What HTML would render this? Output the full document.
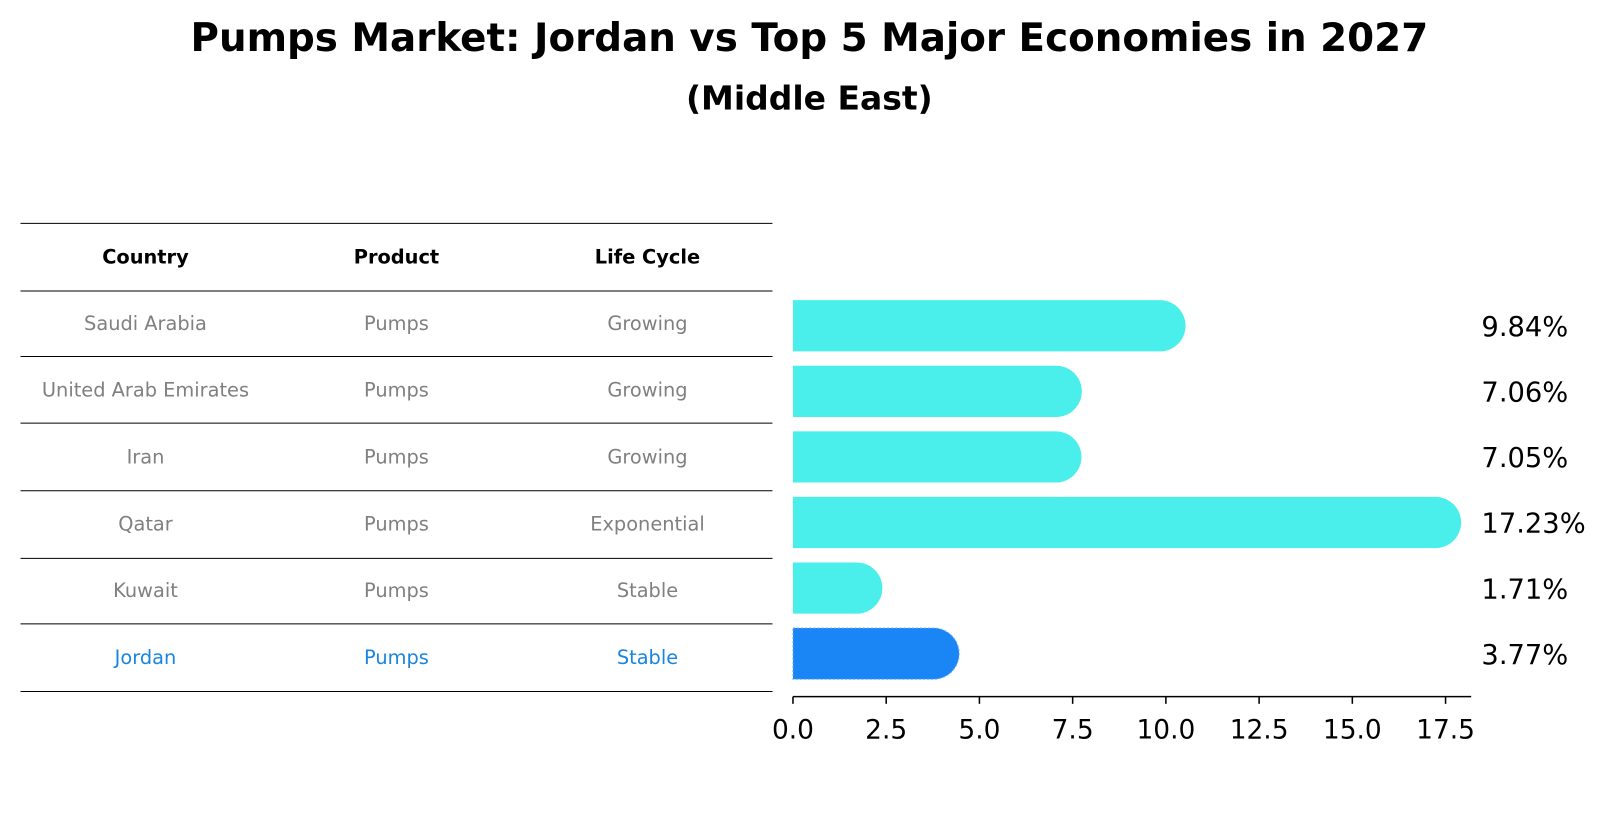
<!DOCTYPE html>
<html><head><meta charset="utf-8"><style>
body{margin:0;background:#fff;font-family:"Liberation Sans","DejaVu Sans",sans-serif}
</style></head><body>
<svg width="1604" height="823" xmlns="http://www.w3.org/2000/svg" font-family="DejaVu Sans, Liberation Sans, sans-serif">
<g transform="scale(1.0245)">
<text x="790" y="50" text-anchor="middle" font-size="37.9" font-weight="bold">Pumps Market: Jordan vs Top 5 Major Economies in 2027</text>
<text x="790" y="107" text-anchor="middle" font-size="32.2" font-weight="bold">(Middle East)</text>
<g id="table"></g>
<g id="bars"></g>
</g>
</svg>
<script>
const countries=["Saudi Arabia","United Arab Emirates","Iran","Qatar","Kuwait","Jordan"];
const products=["Pumps","Pumps","Pumps","Pumps","Pumps","Pumps"];
const lifeCycles=["Growing","Growing","Growing","Exponential","Stable","Stable"];
const values=[9.84,7.06,7.05,17.23,1.71,3.77];
const valueLabels=["9.84%","7.06%","7.05%","17.23%","1.71%","3.77%"];
const ticks=[0,2.5,5,7.5,10,12.5,15,17.5];
const tickLabels=["0.0","2.5","5.0","7.5","10.0","12.5","15.0","17.5"];
const NS="http://www.w3.org/2000/svg";
function mk(p,t,a){const e=document.createElementNS(NS,t);for(const k in a)e.setAttribute(k,a[k]);p.appendChild(e);return e;}
const x0=774,ppu=36.4;
const xs=v=>x0+v*ppu;
const yc=i=>318+i*64;
const tb=document.getElementById('table');
const lineYs=[218,284,348,413,479,545,609,675];
lineYs.forEach((y,i)=>{const l=mk(tb,'line',{x1:20,x2:754,y1:y,y2:y,stroke:'#000','stroke-width':1});

});
const cx=[142,387,632];
["Country","Product","Life Cycle"].forEach((h,j)=>{const t=mk(tb,'text',{x:cx[j],y:257,'text-anchor':'middle','font-size':18.9,'font-weight':'bold'});t.textContent=h;

});
countries.forEach((c,i)=>{const y=322+i*65.2;const col=i===countries.length-1?'#1a85e0':'#808080';
[c,products[i],lifeCycles[i]].forEach((v,j)=>{const t=mk(tb,'text',{x:cx[j],y:y,'text-anchor':'middle','font-size':18.9,fill:col});t.textContent=v;

});});
const bg=document.getElementById('bars');
values.forEach((v,i)=>{const jord=i===values.length-1;const col=jord?'#1a85f5':'#4aeeea';const y=yc(i);const xe=xs(v);
const p=mk(bg,'path',{d:`M${x0},${y-25} L${xe},${y-25} A25,25 0 0 1 ${xe},${y+25} L${x0},${y+25} Z`,fill:col});
if(jord){p.setAttribute('stroke','#6ab0ff');p.setAttribute('stroke-dasharray','2,2');p.setAttribute('stroke-width','1');}


const t=mk(bg,'text',{x:1446,y:y+10,'font-size':26.7});t.textContent=valueLabels[i];

});
const ax=mk(bg,'line',{x1:x0,x2:1436,y1:680,y2:680,stroke:'#000','stroke-width':1.5});


ticks.forEach((v,i)=>{const x=xs(v);mk(bg,'line',{x1:x,x2:x,y1:680,y2:687,stroke:'#000','stroke-width':1.5});
const t=mk(bg,'text',{x:x,y:721,'text-anchor':'middle','font-size':25.8});t.textContent=tickLabels[i];

});
</script>
</body></html>
